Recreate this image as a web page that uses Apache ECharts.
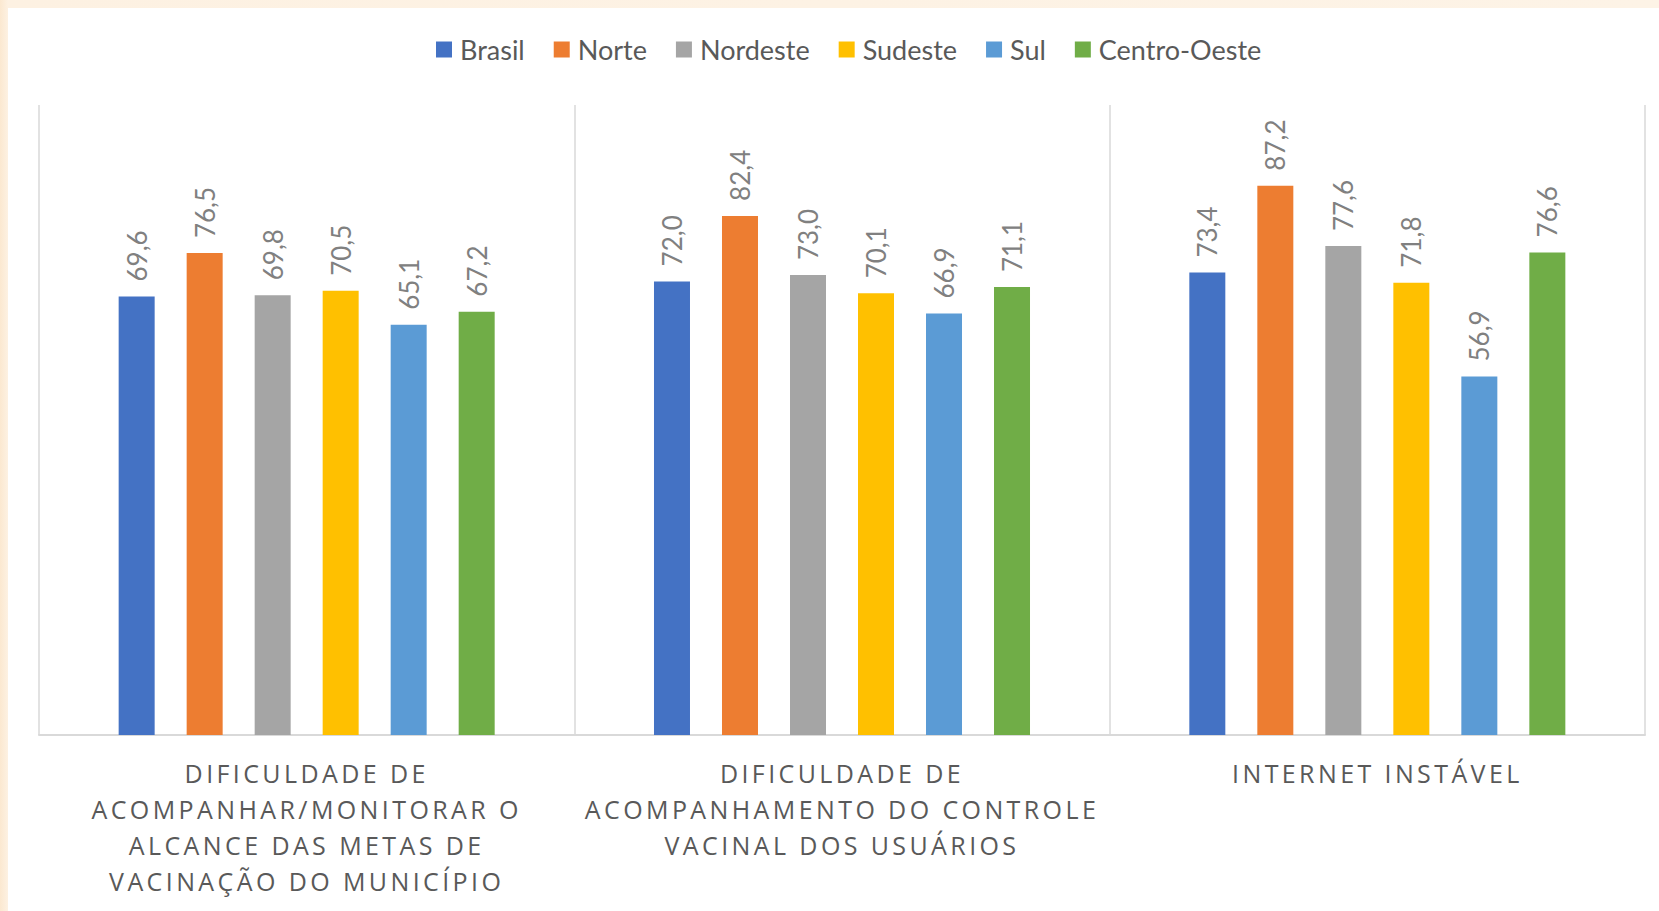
<!DOCTYPE html>
<html>
<head>
<meta charset="utf-8">
<script src="https://cdn.jsdelivr.net/npm/echarts@6/dist/echarts.min.js"></script>
<style>
  html, body { margin: 0; padding: 0; width: 1659px; height: 911px; overflow: hidden;
    background: linear-gradient(90deg, #fbe8d0 0px, #fdf1e2 8px, #fdf3e6 100%); }
  #panel { position: absolute; left: 8px; top: 8px; width: 1651px; height: 903px; background: #ffffff; }
  #chart { position: absolute; left: 0; top: 0; width: 1659px; height: 911px; }
  #chart text[style*="Open Sans"] { letter-spacing: 3.4px; }
</style>
</head>
<body>
<div id="panel"></div>
<div id="chart"></div>
<script>
const categories = [
  "DIFICULDADE DE\nACOMPANHAR/MONITORAR O\nALCANCE DAS METAS DE\nVACINAÇÃO DO MUNICÍPIO",
  "DIFICULDADE DE\nACOMPANHAMENTO DO CONTROLE\nVACINAL DOS USUÁRIOS",
  "INTERNET INSTÁVEL"
];
const seriesNames = ["Brasil", "Norte", "Nordeste", "Sudeste", "Sul", "Centro-Oeste"];
const brasil      = [69.6, 72.0, 73.4];
const norte       = [76.5, 82.4, 87.2];
const nordeste    = [69.8, 73.0, 77.6];
const sudeste     = [70.5, 70.1, 71.8];
const sul         = [65.1, 66.9, 56.9];
const centroOeste = [67.2, 71.1, 76.6];
const colors = ["#4472c4", "#ed7d31", "#a5a5a5", "#ffc000", "#5b9bd5", "#70ad47"];

const values = [brasil, norte, nordeste, sudeste, sul, centroOeste];

const chart = echarts.init(document.getElementById('chart'), null, { renderer: 'svg' });
chart.setOption({
  backgroundColor: 'transparent',
  animation: false,
  color: colors,
  legend: {
    top: 31,
    left: 431,
    itemWidth: 16,
    itemHeight: 16,
    itemGap: 29,
    icon: 'rect',
    textStyle: { fontFamily: 'Lato', fontSize: 27, color: '#595959', padding: [0, 0, 0, 3] },
    data: seriesNames
  },
  grid: { left: 39, right: 14, top: 105, bottom: 176 },
  xAxis: {
    type: 'category',
    data: categories,
    axisLine: { show: true, lineStyle: { color: '#d9d9d9', width: 2 } },
    axisTick: { show: false },
    splitLine: { show: true, lineStyle: { color: '#d9d9d9', width: 1.5 } },
    axisLabel: {
      interval: 0,
      margin: 20,
      fontFamily: 'Open Sans',
      fontSize: 25,
      lineHeight: 36,
      color: '#595959',
      align: 'center'
    }
  },
  yAxis: {
    type: 'value',
    min: 0,
    max: 100,
    show: false,
    splitLine: { show: false }
  },
  series: values.map((v, i) => ({
    name: seriesNames[i],
    type: 'bar',
    data: v,
    barWidth: 36,
    barGap: '88.9%',
    itemStyle: { color: colors[i] },
    label: {
      show: true,
      position: 'top',
      rotate: 90,
      align: 'left',
      verticalAlign: 'middle',
      distance: 15,
      fontFamily: 'Lato',
      fontSize: 26,
      color: '#808080',
      formatter: p => p.value.toFixed(1).replace('.', ',')
    }
  }))
});
</script>
</body>
</html>
